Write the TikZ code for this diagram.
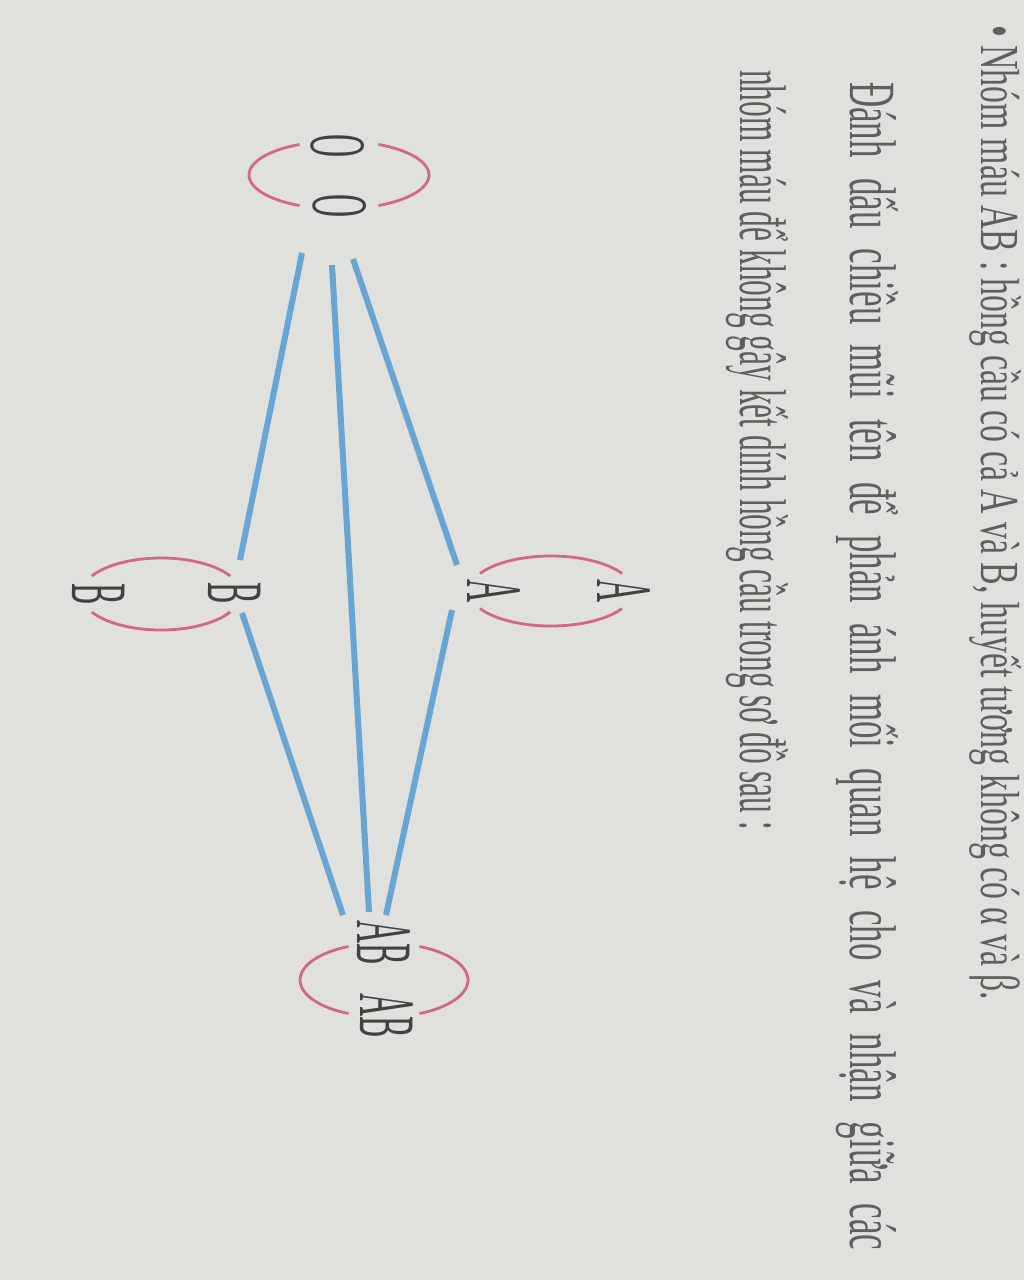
\documentclass[tikz,border=0pt]{standalone}
\usepackage{fontspec}
\setmainfont{Liberation Serif}
\usepackage{graphicx}
\definecolor{paper}{RGB}{224,224,220}
\definecolor{ink}{RGB}{65,65,65}
\definecolor{textgray}{RGB}{95,95,95}
\definecolor{lineblue}{RGB}{105,165,210}
\definecolor{loopred}{RGB}{208,105,135}
\newcommand\glabel[1]{\scalebox{0.4}[1]{\fontsize{80}{80}\selectfont #1}}
\begin{document}
\begin{tikzpicture}[x=1pt,y=-1pt,
  bodyline/.style={rotate=-90, anchor=base west, inner sep=0pt, text=textgray},
  grp/.style={rotate=-90, anchor=base, inner sep=0pt, text=ink},
  link/.style={lineblue, line width=6pt},
  loopline/.style={loopred, line width=2.8pt}]
\fill[paper] (0,0) rectangle (1024,1280);
\useasboundingbox (0,0) rectangle (1024,1280);

% text lines
\node[bodyline] (t1) at (981,25) {\resizebox{975pt}{\height}{\fontsize{55}{55}\selectfont • Nhóm máu AB : hồng cầu có cả A và B, huyết tương không có α và β.}};
\node[bodyline] (t2) at (850,82) {\scalebox{0.53}[1]{\makebox[2204pt][s]{\fontsize{66}{66}\selectfont Đánh dấu chiều mũi tên để phản ánh mối quan hệ cho và nhận giữa các}}};
\node[bodyline] (t3) at (740,70) {\resizebox{760pt}{\height}{\fontsize{66}{66}\selectfont nhóm máu để không gây kết dính hồng cầu trong sơ đồ sau :}};

% group labels
\node[grp] (o1) at (311,146) {\glabel{O}};
\node[grp] (o2) at (313,206) {\glabel{O}};
\node[grp] (a1) at (467,591) {\glabel{A}};
\node[grp] (a2) at (597,591) {\glabel{A}};
\node[grp] (b1) at (208,593) {\glabel{B}};
\node[grp] (b2) at (72,594) {\glabel{B}};
\node[grp] (ab1) at (357,943) {\glabel{AB}};
\node[grp] (ab2) at (360,1016) {\glabel{AB}};

% self loops
\draw[loopline] ([shift={(116:90 and 34)}]339,175) arc[start angle=116, end angle=244, x radius=90, y radius=34];
\draw[loopline] ([shift={(-64:90 and 34)}]339,175) arc[start angle=-64, end angle=64, x radius=90, y radius=34];
\draw[loopline] ([shift={(30:82 and 35)}]551,591) arc[start angle=30, end angle=150, x radius=82, y radius=35];
\draw[loopline] ([shift={(210:82 and 35)}]551,591) arc[start angle=210, end angle=330, x radius=82, y radius=35];
\draw[loopline] ([shift={(30:80 and 36)}]161,594) arc[start angle=30, end angle=150, x radius=80, y radius=36];
\draw[loopline] ([shift={(210:80 and 36)}]161,594) arc[start angle=210, end angle=330, x radius=80, y radius=36];
\draw[loopline] ([shift={(115:84 and 37)}]384,980) arc[start angle=115, end angle=245, x radius=84, y radius=37];
\draw[loopline] ([shift={(-65:84 and 37)}]384,980) arc[start angle=-65, end angle=65, x radius=84, y radius=37];

% connector end points
\coordinate (oB) at (302,253);
\coordinate (bO) at (240,560);
\coordinate (oAB) at (332,265);
\coordinate (abO) at (369,912);
\coordinate (oA) at (353,259);
\coordinate (aO) at (457,565);
\coordinate (aAB) at (452,610);
\coordinate (abA) at (386,915);
\coordinate (bAB) at (242,613);
\coordinate (abB) at (343,915);

\draw[link] (oB) -- (bO);
\draw[link] (oAB) -- (abO);
\draw[link] (oA) -- (aO);
\draw[link] (aAB) -- (abA);
\draw[link] (bAB) -- (abB);
\end{tikzpicture}
\end{document}
